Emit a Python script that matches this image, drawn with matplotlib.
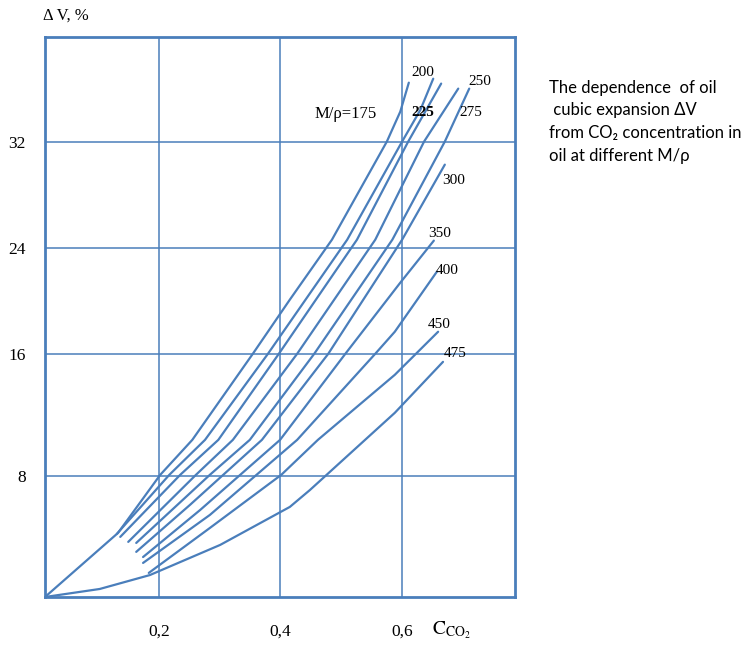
import numpy as np
from matplotlib import pyplot as plt

plt.rcParams['font.family'] = ['Liberation Serif', 'DejaVu Serif']
plt.rcParams['mathtext.fontset'] = 'stix'

# curves of dV(%) vs CO2 concentration
x175 = [0, 0.128, 0.202, 0.255, 0.355, 0.416, 0.485, 0.575, 0.597, 0.611]
y175 = [0, 4.23, 8.07, 10.36, 16.0, 20.08, 24.6, 32.0, 34.26, 36.45]
x200 = [0.126, 0.217, 0.276, 0.380, 0.510, 0.600, 0.630, 0.651]
y200 = [4.17, 8.07, 10.36, 16.0, 24.6, 32.0, 34.4, 36.75]
x225 = [0.132, 0.235, 0.298, 0.398, 0.526, 0.610, 0.664]
y225 = [3.97, 8.07, 10.36, 16.0, 24.6, 32.0, 36.38]
x250 = [0.146, 0.261, 0.322, 0.428, 0.556, 0.636, 0.692]
y250 = [3.64, 8.07, 10.36, 16.0, 24.6, 32.0, 36.0]
x275 = [0.160, 0.284, 0.350, 0.456, 0.584, 0.670, 0.710]
y275 = [3.57, 8.07, 10.36, 16.0, 24.6, 32.0, 36.0]
x300 = [0.160, 0.251, 0.370, 0.479, 0.600, 0.670]
y300 = [2.98, 6.08, 10.36, 16.0, 24.6, 30.26]
x350 = [0.172, 0.268, 0.400, 0.507, 0.597, 0.652]
y350 = [2.64, 5.75, 10.36, 16.0, 21.36, 24.53]
x400 = [0.172, 0.284, 0.428, 0.556, 0.588, 0.657]
y400 = [2.25, 5.42, 10.36, 16.0, 17.66, 22.19]
x450 = [0.182, 0.284, 0.402, 0.462, 0.588, 0.659]
y450 = [1.59, 4.56, 8.07, 10.36, 14.62, 17.66]
x475 = [0, 0.096, 0.184, 0.301, 0.416, 0.449, 0.588, 0.667]
y475 = [0, 0.53, 1.45, 3.44, 5.95, 7.07, 12.13, 15.47]

curves = [(x175, y175), (x200, y200), (x225, y225), (x250, y250), (x275, y275),
          (x300, y300), (x350, y350), (x400, y400), (x450, y450), (x475, y475)]

xticks = [0.2, 0.4, 0.6]
xlabels = ['0,2', '0,4', '0,6']
yticks = [8, 16, 24, 32]

# the scanned grid is not evenly spaced, so use a piecewise scale
xv = [-0.2, 0, 0.2, 0.4, 0.6, 1.0]
xp = [-114, 0, 114, 235, 357, 601]
yv = [-10, 0, 8, 16, 24, 32, 50]
yp = [-151, 0, 121, 243, 349, 455, 693]

blue = '#4a7ebb'

fig = plt.figure(figsize=(7.52, 6.48), dpi=100)
ax = fig.add_axes([45 / 752, 51 / 648, 470 / 752, 560 / 648])
ax.set_xscale('function', functions=(lambda v: np.interp(v, xv, xp), lambda p: np.interp(p, xp, xv)))
ax.set_yscale('function', functions=(lambda v: np.interp(v, yv, yp), lambda p: np.interp(p, yp, yv)))
ax.set_xlim(0, 0.785)
ax.set_ylim(0, 39.9)

for xs, ys in curves:
    ax.plot(xs, ys, color=blue, lw=1.6, solid_capstyle='round', solid_joinstyle='round')

ax.set_xticks(xticks)
ax.set_xticklabels(xlabels)
ax.set_yticks(yticks)
ax.grid(True, color=blue, lw=1.1)
ax.set_axisbelow(True)
ax.tick_params(length=0, labelsize=12.5)
ax.tick_params(axis='x', pad=19)
ax.tick_params(axis='y', pad=14)
for s in ax.spines.values():
    s.set_color(blue)
    s.set_linewidth(2)

fs = 11
ax.text(0.634, 37.2, '200', fontsize=fs, ha='center', va='center')
ax.text(0.728, 36.5, '250', fontsize=fs, ha='center', va='center')
ax.text(0.634, 34.2, '225', fontsize=fs, ha='center', va='center', fontweight='bold')
ax.text(0.712, 34.2, '275', fontsize=fs, ha='center', va='center')
ax.text(0.507, 34.1, 'M/ρ=175', fontsize=12, ha='center', va='center')
ax.text(0.684, 29.1, '300', fontsize=fs, ha='center', va='center')
ax.text(0.661, 25.1, '350', fontsize=fs, ha='center', va='center')
ax.text(0.674, 22.3, '400', fontsize=fs, ha='center', va='center')
ax.text(0.661, 18.2, '450', fontsize=fs, ha='center', va='center')
ax.text(0.687, 16.0, '475', fontsize=fs, ha='center', va='center')

fig.text(43 / 752, 1 - 16 / 648, 'Δ V, %', fontsize=12, va='center')
fig.text(432 / 752, 1 - 630 / 648, r'$\mathrm{C}_{\mathrm{CO}_2}$', fontsize=14, va='center')

fig.text(549 / 752, 1 - 80 / 648,
         'The dependence  of oil\n cubic expansion ΔV\nfrom CO₂ concentration in\noil at different M/ρ',
         fontsize=12, va='top', ha='left', linespacing=1.5, family=['Lato', 'DejaVu Sans'])

fig.savefig('out.png', dpi=100)
